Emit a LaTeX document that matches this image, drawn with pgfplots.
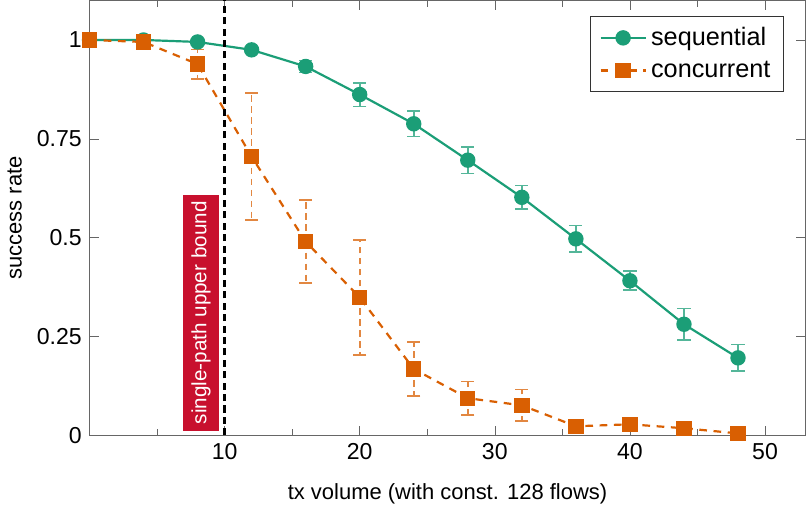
\documentclass[border=0pt]{standalone}
\usepackage{fontspec}
\setmainfont{Liberation Sans}
\usepackage{pgfplots}
\pgfplotsset{compat=1.18}
\definecolor{seqcol}{HTML}{1B9E77}
\definecolor{concol}{HTML}{D95F02}
\definecolor{boxred}{HTML}{C8102E}

\begin{document}
\begin{tikzpicture}
\begin{axis}[scale only axis, width=326pt, height=198pt,
  xmin=0, xmax=53, ymin=0, ymax=1.1,
  xtick={10,20,...,50}, minor xtick={5,15,...,55},
  ytick={0,0.25,0.5,0.75,1}, yticklabels={0,0.25,0.5,0.75,1},
  /pgf/number format/assume math mode=true,
  tick label style={font=\fontsize{10.5}{12}\selectfont},
  xlabel={tx volume (with const. 128 flows)}, ylabel={success rate},
  xlabel style={yshift=-4pt},
  axis line style={gray!80!black}, tick style={gray!80!black},
  legend cell align=left,
  legend style={at={(0.97,0.965)}, anchor=north east, draw=black!80,
    font=\fontsize{11.5}{13}\selectfont, row sep=1.5pt, inner xsep=4pt, inner ysep=3pt},
  legend image code/.code={
    \draw[mark repeat=2, mark phase=2, #1] plot coordinates {(0cm,0cm) (0.36cm,0cm) (0.72cm,0cm)};}]
  \addplot[seqcol, line width=1pt, mark=*, mark size=3pt,
    error bars/.cd, y dir=both, y explicit,
    error bar style={seqcol!75!white, line width=0.8pt},
    error mark options={rotate=90, mark size=3pt, seqcol!75!white, line width=0.8pt}]
    coordinates {
    (0,1) +- (0,0) (4,1) +- (0,0) (8,0.995) +- (0,0) (12,0.975) +- (0,0)
    (16,0.933) +- (0,0.015) (20,0.862) +- (0,0.03) (24,0.788) +- (0,0.032)
    (28,0.696) +- (0,0.034) (32,0.602) +- (0,0.03) (36,0.497) +- (0,0.034)
    (40,0.391) +- (0,0.024) (44,0.281) +- (0,0.04) (48,0.196) +- (0,0.034)
  };
  \addlegendentry{sequential}
  \addplot[concol, line width=1pt, dash pattern=on 3.5pt off 3pt, mark=square*, mark size=3pt,
    mark options={solid},
    error bars/.cd, y dir=both, y explicit,
    error bar style={concol!75!white, line width=0.8pt, dash pattern=on 3pt off 2pt},
    error mark options={rotate=90, mark size=3pt, concol!75!white, line width=0.8pt, solid}]
    coordinates {
    (0,1) +- (0,0) (4,0.995) +- (0,0) (8,0.939) +- (0,0.037)
    (12,0.705) +- (0,0.16) (16,0.49) +- (0,0.105) (20,0.349) +- (0,0.146)
    (24,0.168) +- (0,0.069) (28,0.094) +- (0,0.042) (32,0.076) +- (0,0.04)
    (36,0.023) +- (0,0) (40,0.028) +- (0,0) (44,0.018) +- (0,0) (48,0.005) +- (0,0)
  };
  \addlegendentry{concurrent}
  \addplot[black, line width=1.2pt, dash pattern=on 3.2pt off 2pt, forget plot]
    coordinates {(10,0) (10,1.1)};
  \node[fill=boxred, text=white, rotate=90, inner xsep=3pt, inner ysep=4pt,
    font=\fontsize{9.4}{11}\selectfont]
    at (axis cs:8.25,0.31) {single-path upper bound};
\end{axis}
\end{tikzpicture}
\end{document}
